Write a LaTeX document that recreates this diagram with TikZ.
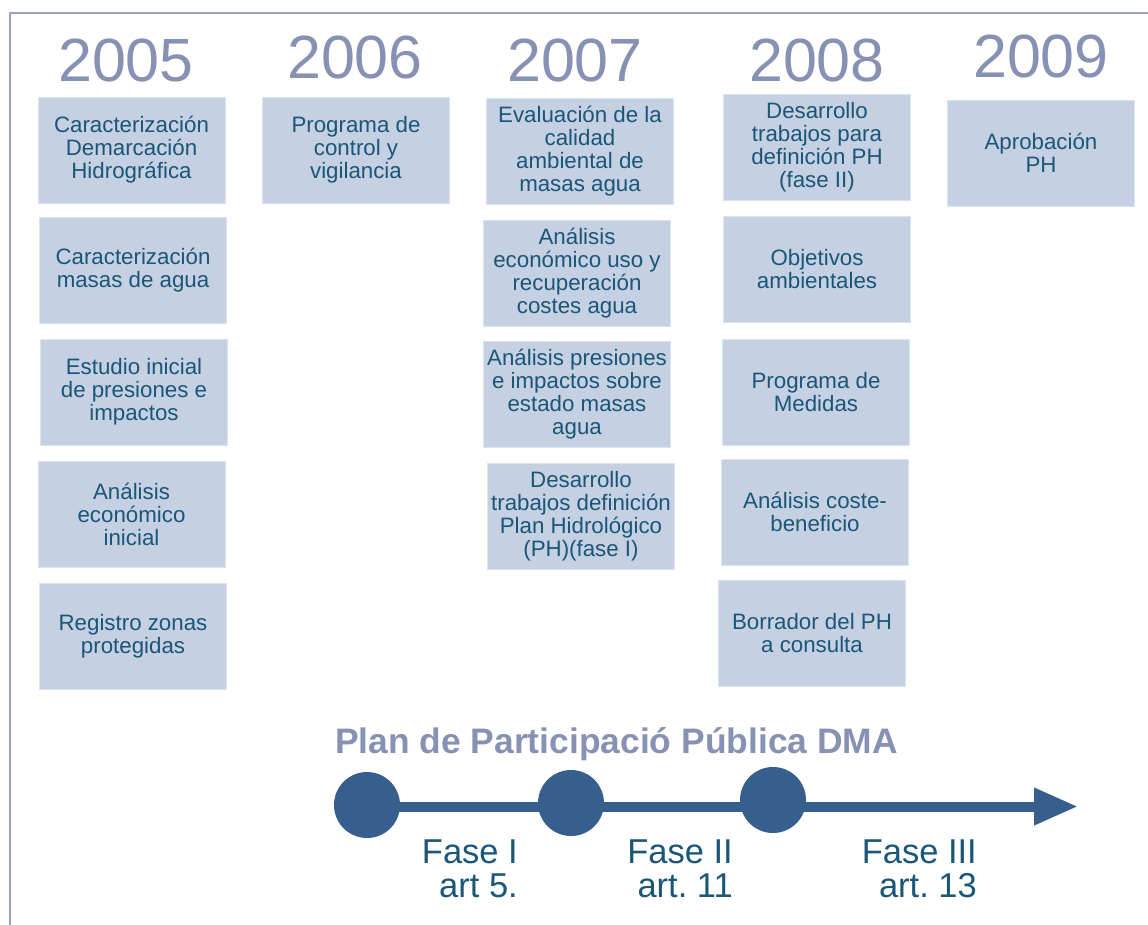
\documentclass[tikz,border=0pt]{standalone}
\usepackage{fontspec}
\setmainfont{Liberation Sans}
\usetikzlibrary{arrows.meta}
\frenchspacing
\definecolor{framecol}{HTML}{98A2C0}
\definecolor{yearcol}{HTML}{8791B3}
\definecolor{boxfill}{HTML}{C5D0E3}
\definecolor{boxedge}{HTML}{DCE3EF}
\definecolor{txtcol}{HTML}{1A5677}
\definecolor{linecol}{HTML}{365F8D}
\tikzset{
  yearlbl/.style={anchor=base, text=yearcol, font=\fontsize{61}{61}\selectfont, inner sep=0pt},
  stagebox/.style={fill=boxfill, draw=boxedge, line width=1pt, minimum width=187pt, minimum height=106pt,
    align=center, text=txtcol, inner sep=0pt, font=\fontsize{22.3}{23}\selectfont},
  phasedot/.style={circle, fill=linecol, minimum size=66pt, inner sep=0pt},
  phaselbl/.style={align=right, text=txtcol, inner sep=0pt, anchor=north east, font=\fontsize{34.5}{34}\selectfont},
}
\begin{document}
\begin{tikzpicture}[x=1pt,y=-1pt]
\useasboundingbox (0,0) rectangle (1148,924);
\fill[white] (0,0) rectangle (1148,924);
\draw[framecol, line width=2pt] (1150,13) -- (10,13) -- (10,926);
% years
\node[yearlbl] (y5) at (126,81) {2005};
\node[yearlbl] (y6) at (355,78) {2006};
\node[yearlbl] (y7) at (575,81) {2007};
\node[yearlbl] (y8) at (817,81) {2008};
\node[yearlbl] (y9) at (1041,77) {2009};
% 2005
\node[stagebox] (a1) at (131.5,150) {Caracterización\\Demarcación\\Hidrográfica};
\node[stagebox] (a2) at (133,270.5) {Caracterización\\masas de agua};
\node[stagebox] (a3) at (134,392) {Estudio inicial\\de presiones e\\impactos};
\node[stagebox] (a4) at (131.5,514) {Análisis\\económico\\inicial};
\node[stagebox] (a5) at (133,636) {Registro zonas\\protegidas};
% 2006
\node[stagebox] (b1) at (356,150) {Programa de\\control y\\vigilancia};
% 2007
\node[stagebox] (c1) at (580,151) {Evaluación de la\\calidad\\ambiental de\\masas agua};
\node[stagebox] (c2) at (577,273) {Análisis\\económico uso y\\recuperación\\costes agua};
\node[stagebox] (c3) at (577,394.5) {Análisis presiones\\e impactos sobre\\estado masas\\agua};
\node[stagebox] (c4) at (581,516) {Desarrollo\\trabajos definición\\Plan Hidrológico\\(PH)(fase I)};
% 2008
\node[stagebox] (d1) at (817,147) {Desarrollo\\trabajos para\\definición PH\\(fase II)};
\node[stagebox] (d2) at (817,269) {Objetivos\\ambientales};
\node[stagebox] (d3) at (816,392) {Programa de\\Medidas};
\node[stagebox] (d4) at (815,512) {Análisis coste-\\beneficio};
\node[stagebox] (d5) at (812,633) {Borrador del PH\\a consulta};
% 2009
\node[stagebox] (e1) at (1041,153) {Aprobación\\PH};
% participation plan
\node[anchor=base west, text=yearcol, inner sep=0pt, font=\bfseries\fontsize{35.4}{35}\selectfont] (title) at (335,753) {Plan de Participació Pública DMA};
\node[phasedot] (p1) at (367,805) {};
\node[phasedot] (p2) at (571,803) {};
\node[phasedot] (p3) at (773,800) {};
\coordinate (tip) at (1078,806.5);
\draw[linecol, line width=10pt, -{Triangle[length=44pt,width=35pt]}] (p1.center |- tip) -- (tip);
\node[phaselbl] (f1) at (518,840) {Fase I\\art 5.};
\node[phaselbl] (f2) at (733,840) {Fase II\\art. 11};
\node[phaselbl] (f3) at (977,840) {Fase III\\art. 13};
\end{tikzpicture}
\end{document}
